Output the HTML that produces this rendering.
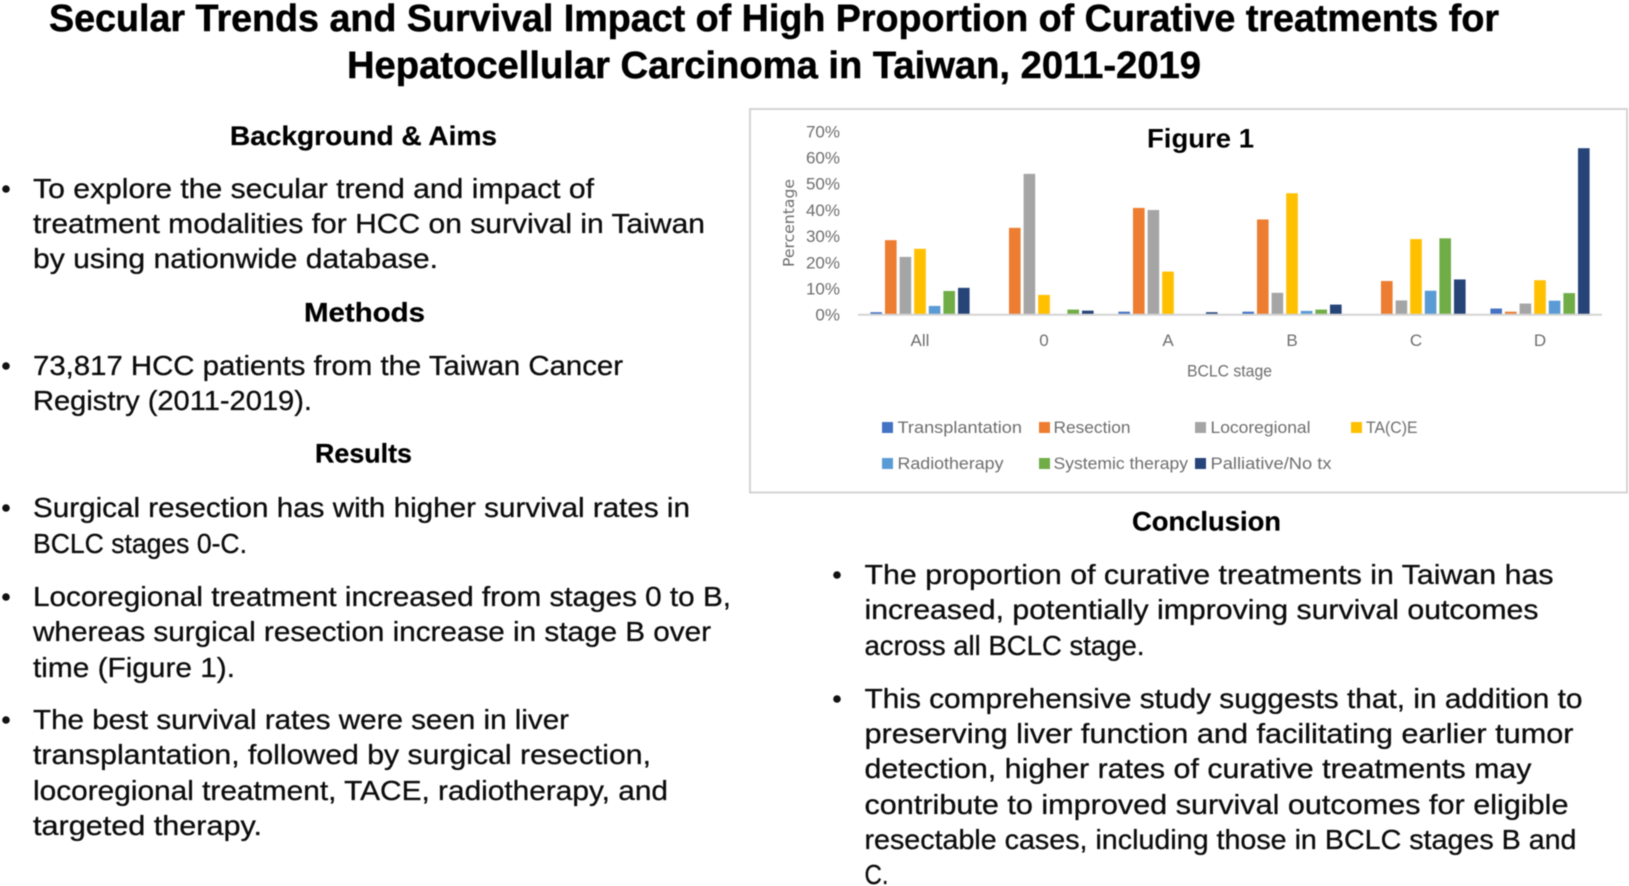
<!DOCTYPE html>
<html lang="en">
<head>
<meta charset="utf-8">
<title>Secular Trends and Survival Impact of Curative Treatments for HCC in Taiwan</title>
<style>
html,body{margin:0;padding:0;background:#fff;width:1629px;height:886px;overflow:hidden}
svg{display:block;filter:blur(.45px)}
text{font-family:"Liberation Sans",sans-serif;fill:#000}
.title{font-size:38px;font-weight:700;stroke:#000;stroke-width:.5px}
.head{font-size:27px;font-weight:700;stroke:#000;stroke-width:.25px}
.body{font-size:27.5px;fill:#0c0c0c;stroke:#0c0c0c;stroke-width:.3px}
.tick{font-size:17px;fill:#6e6e6e}
.leg{font-size:17px;fill:#6e6e6e}
</style>
</head>
<body>
<svg id="poster" width="1629" height="886" viewBox="0 0 1629 886" xmlns="http://www.w3.org/2000/svg">
  <rect x="0" y="0" width="1629" height="886" fill="#fff"/>

  <text class="title" x="49" y="31" textLength="1450" lengthAdjust="spacingAndGlyphs">Secular Trends and Survival Impact of High Proportion of Curative treatments for</text>
  <text class="title" x="347" y="78" textLength="854" lengthAdjust="spacingAndGlyphs">Hepatocellular Carcinoma in Taiwan, 2011-2019</text>

  <text class="head" x="230" y="145" textLength="267" lengthAdjust="spacingAndGlyphs">Background &amp; Aims</text>
  <circle cx="6" cy="189" r="3.8" fill="#111"/>
  <text class="body" x="33" y="198" textLength="561" lengthAdjust="spacingAndGlyphs">To explore the secular trend and impact of</text>
  <text class="body" x="33" y="233" textLength="672" lengthAdjust="spacingAndGlyphs">treatment modalities for HCC on survival in Taiwan</text>
  <text class="body" x="33" y="268" textLength="405" lengthAdjust="spacingAndGlyphs">by using nationwide database.</text>

  <text class="head" x="304" y="321.5" textLength="121" lengthAdjust="spacingAndGlyphs">Methods</text>
  <circle cx="6" cy="366" r="3.8" fill="#111"/>
  <text class="body" x="33" y="375" textLength="590" lengthAdjust="spacingAndGlyphs">73,817 HCC patients from the Taiwan Cancer</text>
  <text class="body" x="33" y="410" textLength="279" lengthAdjust="spacingAndGlyphs">Registry (2011-2019).</text>

  <text class="head" x="315" y="462.5" textLength="97" lengthAdjust="spacingAndGlyphs">Results</text>
  <circle cx="6" cy="508" r="3.8" fill="#111"/>
  <text class="body" x="33" y="517" textLength="657" lengthAdjust="spacingAndGlyphs">Surgical resection has with higher survival rates in</text>
  <text class="body" x="33" y="553" textLength="214" lengthAdjust="spacingAndGlyphs">BCLC stages 0-C.</text>
  <circle cx="6" cy="597" r="3.8" fill="#111"/>
  <text class="body" x="33" y="606" textLength="698" lengthAdjust="spacingAndGlyphs">Locoregional treatment increased from stages 0 to B,</text>
  <text class="body" x="33" y="641" textLength="678" lengthAdjust="spacingAndGlyphs">whereas surgical resection increase in stage B over</text>
  <text class="body" x="33" y="677" textLength="202" lengthAdjust="spacingAndGlyphs">time (Figure 1).</text>
  <circle cx="6" cy="720" r="3.8" fill="#111"/>
  <text class="body" x="33" y="729" textLength="536" lengthAdjust="spacingAndGlyphs">The best survival rates were seen in liver</text>
  <text class="body" x="33" y="764" textLength="618" lengthAdjust="spacingAndGlyphs">transplantation, followed by surgical resection,</text>
  <text class="body" x="33" y="800" textLength="635" lengthAdjust="spacingAndGlyphs">locoregional treatment, TACE, radiotherapy, and</text>
  <text class="body" x="33" y="835" textLength="229" lengthAdjust="spacingAndGlyphs">targeted therapy.</text>

  <g id="chart">
    <rect x="750" y="109" width="877" height="383.5" fill="#fff" stroke="#d4d4d4" stroke-width="2"/>
    <text x="1147" y="147.5" font-size="27" font-weight="700" textLength="107" lengthAdjust="spacingAndGlyphs">Figure 1</text>
    <text transform="translate(794,267) rotate(-90)" x="0" y="0" font-size="15" textLength="88" lengthAdjust="spacingAndGlyphs" style="font-family:'DejaVu Sans',sans-serif;fill:#6e6e6e">Percentage</text>
    <g id="y-ticks"></g>
    <g id="bars"></g>
    <line x1="858" y1="314.8" x2="1602" y2="314.8" stroke="#d4d4d4" stroke-width="2"/>
    <g id="x-ticks"></g>
    <text class="tick" x="1187" y="376.5" textLength="85" lengthAdjust="spacingAndGlyphs">BCLC stage</text>

    <g>
      <rect x="882" y="422" width="11" height="11" fill="#4472C4"/>
      <text class="leg" x="897.5" y="433" textLength="124.5" lengthAdjust="spacingAndGlyphs">Transplantation</text>
      <rect x="1039" y="422" width="11" height="11" fill="#ED7D31"/>
      <text class="leg" x="1053.5" y="433" textLength="77" lengthAdjust="spacingAndGlyphs">Resection</text>
      <rect x="1195" y="422" width="11" height="11" fill="#A5A5A5"/>
      <text class="leg" x="1210.5" y="433" textLength="100" lengthAdjust="spacingAndGlyphs">Locoregional</text>
      <rect x="1351" y="422" width="11" height="11" fill="#FFC000"/>
      <text class="leg" x="1366" y="433" textLength="51.5" lengthAdjust="spacingAndGlyphs">TA(C)E</text>
      <rect x="882" y="458" width="11" height="11" fill="#5B9BD5"/>
      <text class="leg" x="897.5" y="469" textLength="106" lengthAdjust="spacingAndGlyphs">Radiotherapy</text>
      <rect x="1039" y="458" width="11" height="11" fill="#70AD47"/>
      <text class="leg" x="1053.5" y="469" textLength="134.5" lengthAdjust="spacingAndGlyphs">Systemic therapy</text>
      <rect x="1195" y="458" width="11" height="11" fill="#264478"/>
      <text class="leg" x="1210.5" y="469" textLength="121" lengthAdjust="spacingAndGlyphs">Palliative/No tx</text>
    </g>
  </g>

  <text class="head" x="1132" y="530.5" textLength="149" lengthAdjust="spacingAndGlyphs">Conclusion</text>
  <circle cx="837" cy="575" r="3.8" fill="#111"/>
  <text class="body" x="864.5" y="584" textLength="689" lengthAdjust="spacingAndGlyphs">The proportion of curative treatments in Taiwan has</text>
  <text class="body" x="864.5" y="619" textLength="674" lengthAdjust="spacingAndGlyphs">increased, potentially improving survival outcomes</text>
  <text class="body" x="864.5" y="655" textLength="280" lengthAdjust="spacingAndGlyphs">across all BCLC stage.</text>
  <circle cx="837" cy="699" r="3.8" fill="#111"/>
  <text class="body" x="864.5" y="708" textLength="718" lengthAdjust="spacingAndGlyphs">This comprehensive study suggests that, in addition to</text>
  <text class="body" x="864.5" y="743" textLength="709" lengthAdjust="spacingAndGlyphs">preserving liver function and facilitating earlier tumor</text>
  <text class="body" x="864.5" y="778" textLength="667" lengthAdjust="spacingAndGlyphs">detection, higher rates of curative treatments may</text>
  <text class="body" x="864.5" y="814" textLength="704" lengthAdjust="spacingAndGlyphs">contribute to improved survival outcomes for eligible</text>
  <text class="body" x="864.5" y="849" textLength="712" lengthAdjust="spacingAndGlyphs">resectable cases, including those in BCLC stages B and</text>
  <text class="body" x="864.5" y="884" textLength="24" lengthAdjust="spacingAndGlyphs">C.</text>
</svg>

<script>
const categories = ["All", "0", "A", "B", "C", "D"];
const yTickValues = [0, 10, 20, 30, 40, 50, 60, 70];
const seriesNames = ["transplantation", "resection", "locoregional", "tace", "radiotherapy", "systemic-therapy", "palliative"];
const seriesColors = ["#4472C4", "#ED7D31", "#A5A5A5", "#FFC000", "#5B9BD5", "#70AD47", "#264478"];
const transplantation = [0.8, 0, 1.0, 1.0, 0, 2.2];
const resection = [28.3, 33.0, 40.6, 36.2, 12.7, 1.0];
const locoregional = [21.9, 53.6, 39.8, 8.2, 5.3, 4.1];
const tace = [25.0, 7.4, 16.3, 46.2, 28.7, 13.0];
const radiotherapy = [3.2, 0, 0, 1.3, 9.0, 5.2];
const systemicTherapy = [8.9, 1.8, 0, 1.8, 29.0, 8.1];
const palliative = [10.1, 1.4, 0.8, 3.7, 13.3, 63.4];
const seriesValues = [transplantation, resection, locoregional, tace, radiotherapy, systemicTherapy, palliative];

const NS = "http://www.w3.org/2000/svg";
function yScale(v) { return 314.3 - v * 2.62; }
function xCenter(i) { return 858 + (i + 0.5) * 124; }
function barX(i, s) { return xCenter(i) + (s - 3) * 14.6 - 5.8; }

const yGroup = document.getElementById("y-ticks");
yTickValues.forEach(function (t) {
  const el = document.createElementNS(NS, "text");
  el.setAttribute("class", "tick");
  el.setAttribute("x", 840);
  el.setAttribute("y", yScale(t) + 6.4);
  el.setAttribute("text-anchor", "end");
  el.textContent = t + "%";
  
  
  yGroup.appendChild(el);
});

const xGroup = document.getElementById("x-ticks");
categories.forEach(function (c, i) {
  const el = document.createElementNS(NS, "text");
  el.setAttribute("class", "tick");
  el.setAttribute("x", xCenter(i));
  el.setAttribute("y", 346);
  el.setAttribute("text-anchor", "middle");
  el.textContent = c;
  
  
  xGroup.appendChild(el);
});

const barGroup = document.getElementById("bars");
seriesValues.forEach(function (vals, s) {
  vals.forEach(function (v, i) {
    if (v <= 0) return;
    const r = document.createElementNS(NS, "rect");
    r.setAttribute("x", barX(i, s));
    r.setAttribute("y", yScale(v));
    r.setAttribute("width", 11.6);
    r.setAttribute("height", yScale(0) - yScale(v));
    r.setAttribute("fill", seriesColors[s]);
    
    
    r.setAttribute("data-series", seriesNames[s]);
    r.setAttribute("data-category", categories[i]);
    barGroup.appendChild(r);
  });
});
</script>
</body>
</html>
